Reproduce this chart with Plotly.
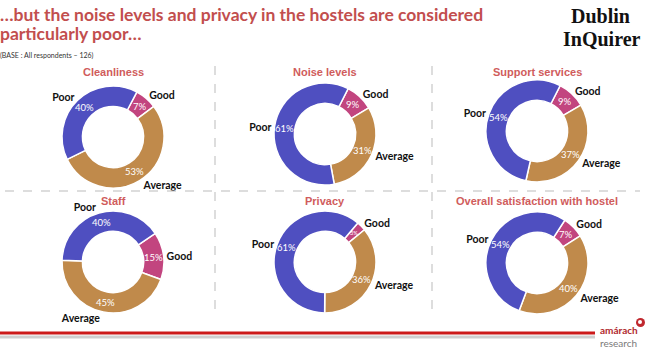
import math
import plotly.graph_objects as go

# ---- data ----
chart_titles = ["Cleanliness", "Noise levels", "Support services",
                "Staff", "Privacy", "Overall satisfaction with hostel"]
categories = ["Good", "Average", "Poor"]
good = [7, 9, 9, 15, 3, 7]
average = [53, 31, 37, 45, 36, 40]
poor = [40, 61, 54, 40, 61, 54]

title_line1 = "…but the noise levels and privacy in the hostels are considered"
title_line2 = "particularly poor…"
base_text = "(BASE : All respondents – 126)"

# ---- style ----
W, H = 650, 352
colors = ["#C2457F", "#C08A4B", "#4F4FC0"]
centers = [(113, 137), (325, 134), (537, 131), (113, 262), (325, 262), (537, 263)]
rotations = [28, 27, 27, 56, 40, 33]
R = 51
HOLE = 0.6
title_color = "#C24E4E"
sub_color = "#D05C5C"


def px(x):
    return x / W


def py(y):
    return 1 - y / H


fig = go.Figure()
for i, name in enumerate(chart_titles):
    cx, cy = centers[i]
    dom = dict(x=[px(cx - R), px(cx + R)], y=[py(cy + R), py(cy - R)])
    vals = [good[i], average[i], poor[i]]
    fig.add_trace(go.Pie(
        labels=categories, values=vals, hole=HOLE, sort=False,
        direction="clockwise", rotation=rotations[i], domain=dom,
        marker=dict(colors=colors, line=dict(color="white", width=1.5)),
        textinfo="none", showlegend=False, hoverinfo="skip"))
    fig.add_trace(go.Pie(
        labels=categories, values=vals, hole=HOLE, sort=False,
        direction="clockwise", rotation=rotations[i], domain=dom,
        marker=dict(colors=["rgba(0,0,0,0)"] * 3, line=dict(width=0)),
        texttemplate="<b>%{label}</b>", textposition="outside",
        textfont=dict(color="#111111", size=10.5, family="Lato"),
        showlegend=False, hoverinfo="skip"))
    # percentage labels at the middle of each ring segment (derived from data)
    total = sum(vals)
    cum = 0
    rr = R * (1 + HOLE) / 2
    for v in vals:
        mid = math.radians(rotations[i] + 360 * (cum + v / 2) / total)
        cum += v
        fig.add_annotation(x=px(cx + rr * math.sin(mid)), y=py(cy - rr * math.cos(mid)),
                           xref="paper", yref="paper", text=f"{v}%", showarrow=False,
                           xanchor="center", yanchor="middle",
                           font=dict(family="Lato", size=9.5 if v >= 5 else 5.5,
                                     color="white"))
    ty = 72 if i < 3 else 201
    fig.add_annotation(x=px(cx), y=py(ty), xref="paper", yref="paper",
                       text="<b>" + name + "</b>", showarrow=False,
                       xanchor="center", yanchor="middle",
                       font=dict(family="Liberation Sans", size=11, color=sub_color))

# main title
fig.add_annotation(x=0, y=py(15), xref="paper", yref="paper", text="<b>" + title_line1 + "</b>",
                   showarrow=False, xanchor="left", yanchor="middle", xshift=-2,
                   font=dict(family="Lato", size=17.5, color=title_color))
fig.add_annotation(x=0, y=py(33), xref="paper", yref="paper", text="<b>" + title_line2 + "</b>",
                   showarrow=False, xanchor="left", yanchor="middle", xshift=-2,
                   font=dict(family="Lato", size=17.5, color=title_color))
fig.add_annotation(x=0, y=py(56), xref="paper", yref="paper", text=base_text,
                   showarrow=False, xanchor="left", yanchor="middle", xshift=-2,
                   font=dict(family="Lato", size=7, color="#333333"))
# Dublin InQuirer logo
fig.add_annotation(x=px(600), y=py(16), xref="paper", yref="paper", text="<b>Dublin</b>",
                   showarrow=False, xanchor="center", yanchor="middle",
                   font=dict(family="Liberation Serif", size=20, color="#111111"))
fig.add_annotation(x=px(602), y=py(39), xref="paper", yref="paper", text="<b>InQuirer</b>",
                   showarrow=False, xanchor="center", yanchor="middle",
                   font=dict(family="Liberation Serif", size=20, color="#111111"))
# amarach logo
fig.add_annotation(x=px(598), y=py(330), xref="paper", yref="paper", text="<b>amárach</b>",
                   showarrow=False, xanchor="left", yanchor="middle",
                   font=dict(family="Lato", size=10, color="#B0282E"))
fig.add_annotation(x=px(598), y=py(343), xref="paper", yref="paper", text="research",
                   showarrow=False, xanchor="left", yanchor="middle",
                   font=dict(family="Lato", size=10, color="#7A7A7A"))

shapes = []
dash = dict(color="#BBBBBB", width=1, dash="dash")
shapes.append(dict(type="line", xref="paper", yref="paper", x0=px(5), x1=px(640),
                   y0=py(191), y1=py(191), line=dash))
for vx in (215, 432):
    shapes.append(dict(type="line", xref="paper", yref="paper", x0=px(vx), x1=px(vx),
                       y0=py(66), y1=py(318), line=dash))
shapes.append(dict(type="line", xref="paper", yref="paper", x0=0, x1=px(595),
                   y0=py(337), y1=py(337), line=dict(color="#CFCFCF", width=3)))
shapes.append(dict(type="line", xref="paper", yref="paper", x0=0, x1=px(595),
                   y0=py(333), y1=py(333), line=dict(color="#CC1A1A", width=3)))
shapes.append(dict(type="circle", xref="paper", yref="paper", x0=px(636), x1=px(645),
                   y0=py(327), y1=py(318), fillcolor="#C0282E", line=dict(width=0)))
shapes.append(dict(type="circle", xref="paper", yref="paper", x0=px(638), x1=px(642),
                   y0=py(324), y1=py(320), fillcolor="white", line=dict(width=0)))

fig.update_layout(width=W, height=H, margin=dict(l=0, r=0, t=0, b=0),
                  paper_bgcolor="white", plot_bgcolor="white", shapes=shapes)
fig.write_html("out.html")
